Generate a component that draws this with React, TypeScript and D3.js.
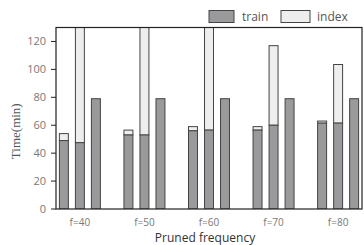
import React from 'react';
import * as d3 from 'd3';

const groups = ['f=40', 'f=50', 'f=60', 'f=70', 'f=80'];
const barKeys = ['b1', 'b2', 'b3'];
// per bar position within group: train time and index time stacked on top
const trainB1 = [49, 53, 56, 56.5, 61.5];
const indexB1 = [5, 3.5, 3, 2.5, 1.5];
const trainB2 = [47.5, 53, 56.5, 60, 61.5];
const indexB2 = [100, 100, 100, 57, 42];
const trainB3 = [79, 79, 79, 79, 79];
const indexB3 = [0, 0, 0, 0, 0];
const yTicks = [0, 20, 40, 60, 80, 100, 120];

const trainVals = [trainB1, trainB2, trainB3];
const indexVals = [indexB1, indexB2, indexB3];

export default function App() {
  const W = 364;
  const H = 245;
  const margin = { top: 27.5, right: 2, bottom: 36, left: 56 };
  const x0 = margin.left;
  const x1 = W - margin.right;
  const yb = H - margin.bottom;

  const y = d3.scaleLinear().domain([0, 130]).range([yb, margin.top]);
  const xg = d3.scalePoint().domain(groups).range([x0, x1]).padding(0.37);
  const xb = d3.scaleBand().domain(barKeys).range([-20.5, 20.5]).paddingInner(0.44);

  const bars: React.ReactNode[] = [];
  groups.forEach((g, gi) => {
    barKeys.forEach((k, bi) => {
      const bx = (xg(g) as number) + (xb(k) as number);
      const t = trainVals[bi][gi];
      const idx = indexVals[bi][gi];
      if (idx > 0) {
        bars.push(
          <rect
            key={`i-${g}-${k}`}
            x={bx}
            y={y(t + idx)}
            width={xb.bandwidth()}
            height={y(t) - y(t + idx)}
            fill="#eeeeee"
            stroke="#444"
            strokeWidth={1}
          />
        );
      }
      bars.push(
        <rect
          key={`t-${g}-${k}`}
          x={bx}
          y={y(t)}
          width={xb.bandwidth()}
          height={yb - y(t)}
          fill="#9a9a9c"
          stroke="#444"
          strokeWidth={1}
        />
      );
    });
  });

  return (
    <svg
      width={W}
      height={H}
      style={{ position: 'absolute', left: 0, top: 0, background: '#fff' }}
      fontFamily="'Open Sans', sans-serif"
    >
      <defs>
        <clipPath id="plot">
          <rect x={x0} y={margin.top} width={x1 - x0} height={yb - margin.top} />
        </clipPath>
      </defs>

      <g clipPath="url(#plot)">{bars}</g>

      {/* frame */}
      <rect x={x0} y={margin.top} width={x1 - x0} height={yb - margin.top} fill="none" stroke="#222" strokeWidth={1.2} />

      {/* y ticks */}
      {yTicks.map((v) => (
        <g key={v}>
          <line x1={x0 - 5} x2={x0} y1={y(v)} y2={y(v)} stroke="#222" />
          <text x={x0 - 10} y={y(v)} dy="0.35em" textAnchor="end" fontSize={11} fill="#777">
            {v}
          </text>
        </g>
      ))}

      {/* x labels */}
      {groups.map((g) => (
        <text key={g} x={xg(g) as number} y={yb + 16.5} textAnchor="middle" fontSize={10} fill="#777">
          {g}
        </text>
      ))}

      <text x={205} y={yb + 32.5} textAnchor="middle" fontSize={12} fill="#333">
        Pruned frequency
      </text>
      <text
        transform={`translate(20, ${(yb + margin.top) / 2 + 13}) rotate(-90)`}
        textAnchor="middle"
        fontSize={13}
        fontFamily="'Liberation Serif', serif"
        fill="#555"
      >
        Time(min)
      </text>

      {/* legend */}
      <rect x={209} y={10.5} width={25} height={12} fill="#9a9a9c" stroke="#444" />
      <text x={242} y={20.5} fontSize={12} fill="#555">train</text>
      <rect x={281} y={10.5} width={29} height={12} fill="#eeeeee" stroke="#444" />
      <text x={317} y={20.5} fontSize={12} fill="#555">index</text>
    </svg>
  );
}
